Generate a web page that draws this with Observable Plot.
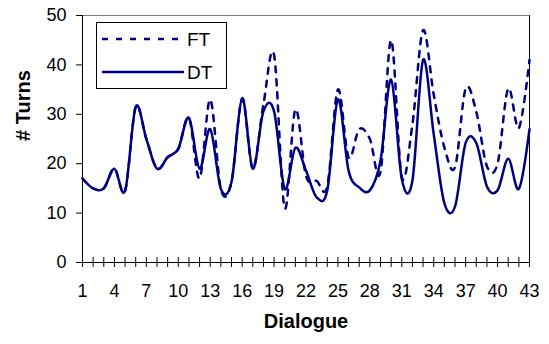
<!DOCTYPE html>
<html>
<head>
<meta charset="utf-8">
<script src="https://cdn.jsdelivr.net/npm/d3@7"></script>
<script src="https://cdn.jsdelivr.net/npm/@observablehq/plot@0.6"></script>
<style>
  html, body { margin: 0; padding: 0; background: white; }
  #wrap { position: relative; width: 549px; height: 344px; }
  #legend { position: absolute; left: 96px; top: 22px; }
</style>
</head>
<body>
<div id="wrap"></div>
<script>
const dialogues = [1,2,3,4,5,6,7,8,9,10,11,12,13,14,15,16,17,18,19,20,21,22,23,24,25,26,27,28,29,30,31,32,33,34,35,36,37,38,39,40,41,42,43];
const FT = [17,15,15,19,14.5,31.5,25,19,21.3,23,29.3,17,33,14.9,16.3,33.1,19,32,42,11,31,17.5,16.5,15.5,35,21.3,27,25,18.3,45,17.3,28,47,34,23.3,19.3,35.2,30.5,19.5,20,35.2,27.2,41];
const DT = [17,15,15,19,14.5,31.5,25,19,21.3,23,29.3,19,27,14.9,16.3,33.3,19,30.6,30.6,14.9,23.2,18.6,13.2,14.6,33,18.6,15.2,14.6,20.6,37,16.9,16.6,41,26,12,11.3,24.2,24.2,15.4,14.6,21,14.9,27];
const yTicks = [0,10,20,30,40,50];
const xLabels = [1,4,7,10,13,16,19,22,25,28,31,34,37,40,43];
const seriesNames = ["FT","DT"];
const navy = "#000080";

const rowsFT = dialogues.map((d,i) => ({x: d, y: FT[i]}));
const rowsDT = dialogues.map((d,i) => ({x: d, y: DT[i]}));

const chart = Plot.plot({
  width: 549,
  height: 344,
  marginLeft: 82,
  marginRight: 20,
  marginTop: 15,
  marginBottom: 82,
  x: {domain: [1, 43]},
  y: {domain: [0, 50]},
  style: {fontFamily: "'Liberation Sans', Arial, sans-serif", fontSize: "18px", color: "black", background: "white"},
  marks: [
    Plot.ruleY([50], {stroke: "#808080", strokeWidth: 1}),
    Plot.ruleX([43], {stroke: "black", strokeWidth: 1}),
    Plot.ruleX([1], {stroke: "black", strokeWidth: 1}),
    Plot.ruleY([0], {stroke: "black", strokeWidth: 1}),
    Plot.axisY({ticks: yTicks, tickSize: 6, tickPadding: 10, label: null, fontSize: 18}),
    Plot.axisX({ticks: xLabels, tickSize: 0, tickPadding: 22, label: null, fontSize: 18}),
    Plot.ruleX(dialogues, {y1: -1, y2: 1, stroke: "black", strokeWidth: 1}),
    Plot.line(rowsDT, {x: "x", y: "y", curve: "cardinal", tension: 0, stroke: navy, strokeWidth: 2.5}),
    Plot.line(rowsFT, {x: "x", y: "y", curve: "cardinal", tension: 0, stroke: navy, strokeWidth: 2.5, strokeDasharray: "6,7"}),
    Plot.text(["# Turns"], {frameAnchor: "left", dx: -59, dy: 2, rotate: -90, fontWeight: "bold", fontSize: 20}),
    Plot.text(["Dialogue"], {frameAnchor: "bottom", dy: 65, fontWeight: "bold", fontSize: 20})
  ]
});

const wrap = document.getElementById("wrap");
wrap.appendChild(chart);

// legend overlay
const ns = "http://www.w3.org/2000/svg";
const lg = document.createElementNS(ns, "svg");
lg.setAttribute("id", "legend");
lg.setAttribute("width", 132);
lg.setAttribute("height", 68);
lg.innerHTML = `
  <rect x="0.5" y="0.5" width="130" height="66" fill="white" stroke="black" stroke-width="1"/>
  <line x1="6" x2="88" y1="17" y2="17" stroke="${navy}" stroke-width="2.5" stroke-dasharray="6,8"/>
  <text x="91" y="24" font-family="'Liberation Sans', Arial, sans-serif" font-size="19">${seriesNames[0]}</text>
  <line x1="6" x2="88" y1="50" y2="50" stroke="${navy}" stroke-width="2.5"/>
  <text x="91" y="57" font-family="'Liberation Sans', Arial, sans-serif" font-size="19">${seriesNames[1]}</text>
`;
wrap.appendChild(lg);
</script>
</body>
</html>
